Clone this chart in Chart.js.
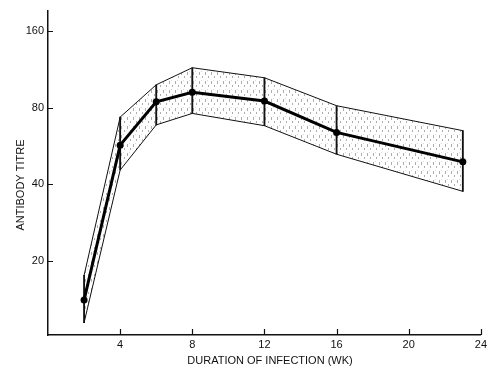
<!DOCTYPE html>
<html>
<head>
<meta charset="utf-8">
<script src="https://cdn.jsdelivr.net/npm/chart.js@4"></script>
<style>
  body { margin: 0; background: #fff; }
  #wrap { width: 490px; height: 367px; }
</style>
</head>
<body>
<div id="wrap"><canvas id="chart" width="490" height="367"></canvas></div>
<script>
// weeks after infection, antibody titre (mean and range band)
const weeks = [2, 4, 6, 8, 12, 16, 23];
const meanTitre = [14, 57, 84.5, 92, 85, 64, 49];
const upperTitre = [17.5, 73.5, 98.5, 115, 105, 81.5, 65];
const lowerTitre = [11.4, 45.5, 68.5, 76, 68, 52.5, 37.5];
const xTicks = [4, 8, 12, 16, 20, 24];
const yTicks = [20, 40, 80, 160];

const FONT = '"Liberation Sans", Arial, sans-serif';

// stippled fill for the range band
function makeStipple() {
    const c = document.createElement('canvas');
    c.width = 6; c.height = 9;
    const g = c.getContext('2d');
    g.fillStyle = 'rgba(0,0,0,0.32)';
    g.fillRect(1, 0, 1, 3);
    g.fillRect(4, 4, 1, 2);
    g.fillStyle = 'rgba(0,0,0,0.15)';
    g.fillRect(3, 8, 1, 1);
    return g.createPattern(c, 'repeat');
}

const pts = (ys) => weeks.map((w, i) => ({ x: w, y: ys[i] }));

const axisDecor = {
    id: 'axisDecor',
    afterDraw(chart) {
        const { ctx, scales: { x, y } } = chart;
        ctx.save();
        ctx.strokeStyle = '#111';
        ctx.lineWidth = 1.2;
        ctx.beginPath();
        yTicks.forEach(v => {
            const py = Math.round(y.getPixelForValue(v)) + 0.5;
            ctx.moveTo(x.left, py); ctx.lineTo(x.left + 5, py);
        });
        xTicks.forEach(v => {
            const px = Math.round(x.getPixelForValue(v)) + 0.5;
            ctx.moveTo(px, y.bottom); ctx.lineTo(px, y.bottom - 6);
        });
        ctx.stroke();

        ctx.fillStyle = '#111';
        ctx.font = '11px ' + FONT;
        ctx.textAlign = 'center';
        ctx.textBaseline = 'middle';
        ctx.fillText('DURATION OF INFECTION (WK)', 270, 361);
        ctx.translate(21, 185);
        ctx.rotate(-Math.PI / 2);
        ctx.fillText('ANTIBODY TITRE', 0, 0);
        ctx.restore();
    }
};

new Chart(document.getElementById('chart'), {
    type: 'line',
    data: {
        datasets: [
            {
                label: 'upper',
                data: pts(upperTitre),
                borderColor: '#111',
                borderWidth: 1,
                pointRadius: 0,
                fill: '+1',
                backgroundColor: makeStipple(),
                order: 3
            },
            {
                label: 'lower',
                data: pts(lowerTitre),
                borderColor: '#111',
                borderWidth: 1,
                pointRadius: 0,
                fill: false,
                order: 3
            },
            {
                type: 'bar',
                label: 'range',
                data: weeks.map((w, i) => ({ x: w, y: [lowerTitre[i], upperTitre[i]] })),
                backgroundColor: '#111',
                barThickness: 1.2,
                order: 2
            },
            {
                label: 'mean',
                data: pts(meanTitre),
                borderColor: '#000',
                borderWidth: 3,
                pointRadius: 3.5,
                pointBackgroundColor: '#000',
                pointBorderWidth: 0,
                fill: false,
                order: 1
            }
        ]
    },
    options: {
        responsive: false,
        animation: false,
        layout: { padding: { left: 0, top: 7, right: 9, bottom: 0 } },
        plugins: { legend: { display: false }, tooltip: { enabled: false } },
        scales: {
            x: {
                type: 'linear',
                min: 0,
                max: 24,
                offset: false,
                afterBuildTicks: (s) => { s.ticks = xTicks.map(v => ({ value: v })); },
                afterFit: (s) => { s.height = 32; },
                grid: { display: false, drawTicks: false },
                border: { display: true, color: '#111', width: 1.5 },
                ticks: { color: '#111', padding: 3, font: { family: FONT, size: 11 }, maxRotation: 0 }
            },
            y: {
                type: 'logarithmic',
                min: 10.2,
                max: 193,
                afterBuildTicks: (s) => { s.ticks = yTicks.map(v => ({ value: v })); },
                afterFit: (s) => { s.width = 48; },
                grid: { display: false, drawTicks: false },
                border: { display: true, color: '#111', width: 1.5 },
                ticks: { color: '#111', padding: 4, font: { family: FONT, size: 11 }, callback: (v) => String(v) }
            }
        }
    },
    plugins: [axisDecor]
});
</script>
</body>
</html>
